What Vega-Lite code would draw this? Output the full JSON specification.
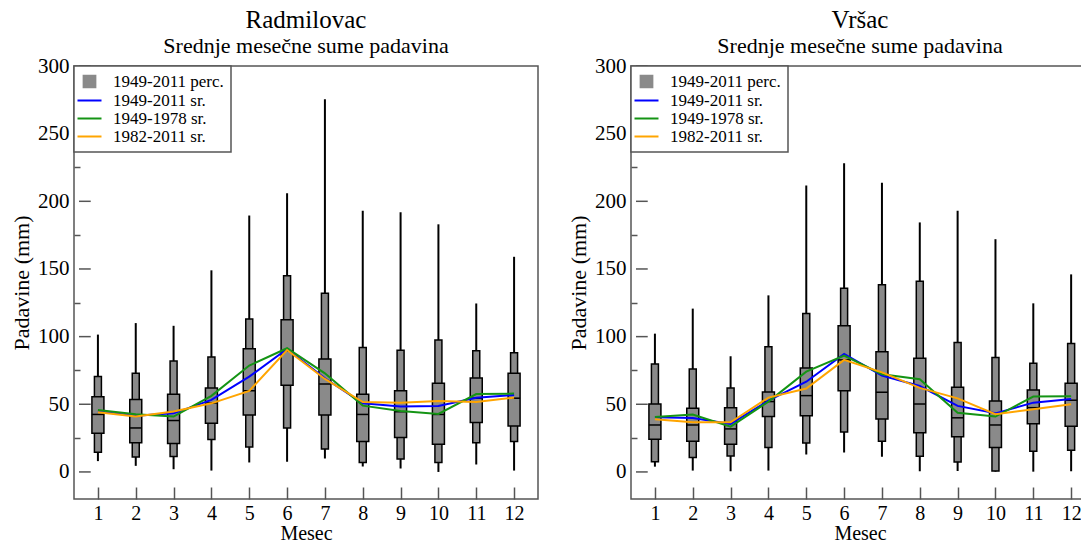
{
  "$schema": "https://vega.github.io/schema/vega-lite/v6.json",
  "padding": {"left": 9, "top": 7, "right": 0, "bottom": 0},
  "background": "white",
  "datasets": {
    "yticks": [{"v": 0}, {"v": 50}, {"v": 100}, {"v": 150}, {"v": 200}, {"v": 250}, {"v": 300}],
    "stats": [
      {"station": "R", "month": 1, "min": 8, "p10": 14.5, "p25": 28.5, "med": 42.5, "p75": 55.5, "p90": 70.5, "max": 101.5},
      {"station": "R", "month": 2, "min": 4.5, "p10": 11, "p25": 21.5, "med": 32.5, "p75": 53.5, "p90": 73, "max": 110},
      {"station": "R", "month": 3, "min": 2, "p10": 11.5, "p25": 21, "med": 38, "p75": 57.5, "p90": 82, "max": 108},
      {"station": "R", "month": 4, "min": 1, "p10": 24, "p25": 36, "med": 51, "p75": 62, "p90": 85, "max": 149},
      {"station": "R", "month": 5, "min": 7, "p10": 18.5, "p25": 42, "med": 60, "p75": 91, "p90": 113, "max": 189.5},
      {"station": "R", "month": 6, "min": 7.5, "p10": 32.5, "p25": 64, "med": 89.5, "p75": 112.5, "p90": 145, "max": 206},
      {"station": "R", "month": 7, "min": 10, "p10": 17, "p25": 42, "med": 65, "p75": 83.5, "p90": 132, "max": 275.5},
      {"station": "R", "month": 8, "min": 4, "p10": 7, "p25": 22.5, "med": 42.5, "p75": 57.5, "p90": 92, "max": 193},
      {"station": "R", "month": 9, "min": 2.5, "p10": 9.5, "p25": 25.5, "med": 44.5, "p75": 60, "p90": 90, "max": 192},
      {"station": "R", "month": 10, "min": 0, "p10": 7, "p25": 20.5, "med": 42.5, "p75": 65.5, "p90": 97.5, "max": 183},
      {"station": "R", "month": 11, "min": 5.5, "p10": 21.5, "p25": 36.5, "med": 54.5, "p75": 69.5, "p90": 89.5, "max": 124.5},
      {"station": "R", "month": 12, "min": 1, "p10": 22.5, "p25": 34, "med": 54.5, "p75": 73, "p90": 88, "max": 159},
      {"station": "V", "month": 1, "min": 3.9, "p10": 7.6, "p25": 24.1, "med": 34.7, "p75": 50.2, "p90": 79.8, "max": 102.2},
      {"station": "V", "month": 2, "min": 1, "p10": 10.6, "p25": 22.7, "med": 34.7, "p75": 47, "p90": 76.1, "max": 120.7},
      {"station": "V", "month": 3, "min": 0.5, "p10": 11.8, "p25": 20.4, "med": 31.8, "p75": 47.5, "p90": 62.1, "max": 85.5},
      {"station": "V", "month": 4, "min": 1, "p10": 18, "p25": 41, "med": 52, "p75": 59, "p90": 92.5, "max": 130.5},
      {"station": "V", "month": 5, "min": 12.8, "p10": 21.4, "p25": 41.6, "med": 56.4, "p75": 76.8, "p90": 117, "max": 211.7},
      {"station": "V", "month": 6, "min": 14.3, "p10": 29.6, "p25": 60, "med": 82.8, "p75": 108, "p90": 135.7, "max": 228.2},
      {"station": "V", "month": 7, "min": 11.3, "p10": 22.7, "p25": 39.2, "med": 58.9, "p75": 88.9, "p90": 138.4, "max": 213.7},
      {"station": "V", "month": 8, "min": 0.5, "p10": 11.6, "p25": 29, "med": 50.2, "p75": 84, "p90": 141, "max": 184.4},
      {"station": "V", "month": 9, "min": 0.7, "p10": 7.4, "p25": 26, "med": 40, "p75": 62.6, "p90": 95.6, "max": 193},
      {"station": "V", "month": 10, "min": 0.2, "p10": 0.7, "p25": 18, "med": 34.7, "p75": 52.5, "p90": 84.5, "max": 172},
      {"station": "V", "month": 11, "min": 0.2, "p10": 15.3, "p25": 35.7, "med": 47.5, "p75": 60.6, "p90": 80.3, "max": 124.6},
      {"station": "V", "month": 12, "min": 0.5, "p10": 16, "p25": 33.7, "med": 53, "p75": 65.5, "p90": 95, "max": 146}
    ],
    "means": [
      {"station": "R", "series": "1949-2011 sr.", "month": 1, "value": 44.6},
      {"station": "R", "series": "1949-2011 sr.", "month": 2, "value": 41.6},
      {"station": "R", "series": "1949-2011 sr.", "month": 3, "value": 43.3},
      {"station": "R", "series": "1949-2011 sr.", "month": 4, "value": 53.2},
      {"station": "R", "series": "1949-2011 sr.", "month": 5, "value": 70.4},
      {"station": "R", "series": "1949-2011 sr.", "month": 6, "value": 90.9},
      {"station": "R", "series": "1949-2011 sr.", "month": 7, "value": 69.2},
      {"station": "R", "series": "1949-2011 sr.", "month": 8, "value": 50.7},
      {"station": "R", "series": "1949-2011 sr.", "month": 9, "value": 48.3},
      {"station": "R", "series": "1949-2011 sr.", "month": 10, "value": 48.8},
      {"station": "R", "series": "1949-2011 sr.", "month": 11, "value": 54.9},
      {"station": "R", "series": "1949-2011 sr.", "month": 12, "value": 56.9},
      {"station": "R", "series": "1949-1978 sr.", "month": 1, "value": 45.8},
      {"station": "R", "series": "1949-1978 sr.", "month": 2, "value": 42.6},
      {"station": "R", "series": "1949-1978 sr.", "month": 3, "value": 40.9},
      {"station": "R", "series": "1949-1978 sr.", "month": 4, "value": 56.2},
      {"station": "R", "series": "1949-1978 sr.", "month": 5, "value": 78.6},
      {"station": "R", "series": "1949-1978 sr.", "month": 6, "value": 91.4},
      {"station": "R", "series": "1949-1978 sr.", "month": 7, "value": 72.9},
      {"station": "R", "series": "1949-1978 sr.", "month": 8, "value": 49.0},
      {"station": "R", "series": "1949-1978 sr.", "month": 9, "value": 45.1},
      {"station": "R", "series": "1949-1978 sr.", "month": 10, "value": 42.9},
      {"station": "R", "series": "1949-1978 sr.", "month": 11, "value": 57.6},
      {"station": "R", "series": "1949-1978 sr.", "month": 12, "value": 57.9},
      {"station": "R", "series": "1982-2011 sr.", "month": 1, "value": 44.1},
      {"station": "R", "series": "1982-2011 sr.", "month": 2, "value": 40.9},
      {"station": "R", "series": "1982-2011 sr.", "month": 3, "value": 44.6},
      {"station": "R", "series": "1982-2011 sr.", "month": 4, "value": 50.7},
      {"station": "R", "series": "1982-2011 sr.", "month": 5, "value": 59.9},
      {"station": "R", "series": "1982-2011 sr.", "month": 6, "value": 90.1},
      {"station": "R", "series": "1982-2011 sr.", "month": 7, "value": 68.7},
      {"station": "R", "series": "1982-2011 sr.", "month": 8, "value": 51.7},
      {"station": "R", "series": "1982-2011 sr.", "month": 9, "value": 51.2},
      {"station": "R", "series": "1982-2011 sr.", "month": 10, "value": 52.5},
      {"station": "R", "series": "1982-2011 sr.", "month": 11, "value": 51.7},
      {"station": "R", "series": "1982-2011 sr.", "month": 12, "value": 54.9},
      {"station": "V", "series": "1949-2011 sr.", "month": 1, "value": 40.4},
      {"station": "V", "series": "1949-2011 sr.", "month": 2, "value": 39.9},
      {"station": "V", "series": "1949-2011 sr.", "month": 3, "value": 35.5},
      {"station": "V", "series": "1949-2011 sr.", "month": 4, "value": 52.7},
      {"station": "V", "series": "1949-2011 sr.", "month": 5, "value": 66.7},
      {"station": "V", "series": "1949-2011 sr.", "month": 6, "value": 87.2},
      {"station": "V", "series": "1949-2011 sr.", "month": 7, "value": 71.2},
      {"station": "V", "series": "1949-2011 sr.", "month": 8, "value": 63.5},
      {"station": "V", "series": "1949-2011 sr.", "month": 9, "value": 48.8},
      {"station": "V", "series": "1949-2011 sr.", "month": 10, "value": 43.3},
      {"station": "V", "series": "1949-2011 sr.", "month": 11, "value": 51.2},
      {"station": "V", "series": "1949-2011 sr.", "month": 12, "value": 53.9},
      {"station": "V", "series": "1949-1978 sr.", "month": 1, "value": 40.6},
      {"station": "V", "series": "1949-1978 sr.", "month": 2, "value": 42.4},
      {"station": "V", "series": "1949-1978 sr.", "month": 3, "value": 33.5},
      {"station": "V", "series": "1949-1978 sr.", "month": 4, "value": 52.0},
      {"station": "V", "series": "1949-1978 sr.", "month": 5, "value": 74.1},
      {"station": "V", "series": "1949-1978 sr.", "month": 6, "value": 86.0},
      {"station": "V", "series": "1949-1978 sr.", "month": 7, "value": 72.2},
      {"station": "V", "series": "1949-1978 sr.", "month": 8, "value": 68.5},
      {"station": "V", "series": "1949-1978 sr.", "month": 9, "value": 43.8},
      {"station": "V", "series": "1949-1978 sr.", "month": 10, "value": 40.9},
      {"station": "V", "series": "1949-1978 sr.", "month": 11, "value": 55.7},
      {"station": "V", "series": "1949-1978 sr.", "month": 12, "value": 55.9},
      {"station": "V", "series": "1982-2011 sr.", "month": 1, "value": 38.9},
      {"station": "V", "series": "1982-2011 sr.", "month": 2, "value": 36.7},
      {"station": "V", "series": "1982-2011 sr.", "month": 3, "value": 36.7},
      {"station": "V", "series": "1982-2011 sr.", "month": 4, "value": 54.9},
      {"station": "V", "series": "1982-2011 sr.", "month": 5, "value": 61.6},
      {"station": "V", "series": "1982-2011 sr.", "month": 6, "value": 82.8},
      {"station": "V", "series": "1982-2011 sr.", "month": 7, "value": 73.6},
      {"station": "V", "series": "1982-2011 sr.", "month": 8, "value": 62.1},
      {"station": "V", "series": "1982-2011 sr.", "month": 9, "value": 54.4},
      {"station": "V", "series": "1982-2011 sr.", "month": 10, "value": 42.6},
      {"station": "V", "series": "1982-2011 sr.", "month": 11, "value": 46.3},
      {"station": "V", "series": "1982-2011 sr.", "month": 12, "value": 50.0}
    ]
  },
  "spacing": 27,
  "resolve": {"scale": {"x": "independent", "y": "independent", "color": "independent"}, "legend": {"color": "independent"}},
  "hconcat": [
    {
      "width": 464,
      "height": 433,
      "title": {"text": "Radmilovac", "subtitle": "Srednje mesečne sume padavina"},
      "resolve": {"axis": {"y": "independent"}},
      "layer": [
        {"data": {"name": "stats"}, "transform": [{"filter": "datum.station === 'R'"}],
         "mark": {"type": "rule", "strokeWidth": 2, "color": "black"},
         "encoding": {
           "x": {"field": "month", "type": "quantitative", "title": "Mesec",
             "scale": {"domain": [0.5, 12.5], "nice": false, "zero": false},
             "axis": {"values": [1,2,3,4,5,6,7,8,9,10,11,12], "offset": -12, "tickSize": 12}},
           "y": {"field": "min", "type": "quantitative", "title": "Padavine (mm)",
             "scale": {"domain": [-20, 300], "nice": false, "zero": false},
             "axis": {"orient": "left", "values": [0,50,100,150,200,250,300], "ticks": false}},
           "y2": {"field": "max"}}},
        {"data": {"name": "stats"}, "transform": [{"filter": "datum.station === 'R'"}],
         "mark": {"type": "bar", "width": 7, "fill": "#8a8a8a", "stroke": "black", "strokeWidth": 1.5},
         "encoding": {
           "x": {"field": "month", "type": "quantitative"},
           "y": {"field": "p10", "type": "quantitative",
             "axis": {"orient": "left", "values": [25,75,125,175,225,275], "labels": false, "title": null, "offset": -6, "tickSize": 6}},
           "y2": {"field": "p90"}}},
        {"data": {"name": "stats"}, "transform": [{"filter": "datum.station === 'R'"}],
         "mark": {"type": "bar", "width": 12, "fill": "#8a8a8a", "stroke": "black", "strokeWidth": 1.5},
         "encoding": {
           "x": {"field": "month", "type": "quantitative"},
           "y": {"field": "p25", "type": "quantitative", "axis": null}, "y2": {"field": "p75"}}},
        {"data": {"name": "stats"}, "transform": [{"filter": "datum.station === 'R'"}],
         "mark": {"type": "tick", "orient": "horizontal", "size": 12, "thickness": 1.5, "color": "black", "opacity": 1},
         "encoding": {
           "x": {"field": "month", "type": "quantitative"},
           "y": {"field": "med", "type": "quantitative", "axis": null}}},
        {"data": {"name": "yticks"},
         "mark": {"type": "rule", "strokeWidth": 1.5, "color": "#555"},
         "encoding": {
           "x": {"datum": 0.5, "type": "quantitative"},
           "x2": {"datum": 0.81},
           "y": {"field": "v", "type": "quantitative", "axis": null}}},
        {"data": {"name": "means"}, "transform": [{"filter": "datum.station === 'R'"}],
         "mark": {"type": "line", "strokeWidth": 2},
         "encoding": {
           "x": {"field": "month", "type": "quantitative"},
           "y": {"field": "value", "type": "quantitative", "axis": null},
           "color": {"field": "series", "type": "nominal",
             "scale": {"domain": ["1949-2011 perc.", "1949-2011 sr.", "1949-1978 sr.", "1982-2011 sr."], "range": ["#8a8a8a", "#0000ff", "#149414", "#ffa500"]},
             "legend": {"encode": {"symbols": {"update": {
               "shape": {"signal": "datum.value === '1949-2011 perc.' ? 'square' : 'stroke'"},
               "size": {"signal": "datum.value === '1949-2011 perc.' ? 150 : 576"},
               "fill": {"signal": "datum.value === '1949-2011 perc.' ? '#8a8a8a' : 'transparent'"},
               "stroke": {"signal": "datum.value === '1949-2011 perc.' ? 'black' : datum.value === '1949-2011 sr.' ? '#0000ff' : datum.value === '1949-1978 sr.' ? '#149414' : '#ffa500'"},
               "strokeWidth": {"signal": "datum.value === '1949-2011 perc.' ? 1.5 : 2"},
               "opacity": {"value": 1}}}}}}}}
      ]
    },
    {
      "width": 458,
      "height": 433,
      "title": {"text": "Vršac", "subtitle": "Srednje mesečne sume padavina"},
      "resolve": {"axis": {"y": "independent"}},
      "layer": [
        {"data": {"name": "stats"}, "transform": [{"filter": "datum.station === 'V'"}],
         "mark": {"type": "rule", "strokeWidth": 2, "color": "black"},
         "encoding": {
           "x": {"field": "month", "type": "quantitative", "title": "Mesec",
             "scale": {"domain": [0.5, 12.34], "nice": false, "zero": false},
             "axis": {"values": [1,2,3,4,5,6,7,8,9,10,11,12], "offset": -12, "tickSize": 12}},
           "y": {"field": "min", "type": "quantitative", "title": "Padavine (mm)",
             "scale": {"domain": [-20, 300], "nice": false, "zero": false},
             "axis": {"orient": "left", "values": [0,50,100,150,200,250,300], "ticks": false}},
           "y2": {"field": "max"}}},
        {"data": {"name": "stats"}, "transform": [{"filter": "datum.station === 'V'"}],
         "mark": {"type": "bar", "width": 7, "fill": "#8a8a8a", "stroke": "black", "strokeWidth": 1.5},
         "encoding": {
           "x": {"field": "month", "type": "quantitative"},
           "y": {"field": "p10", "type": "quantitative",
             "axis": {"orient": "left", "values": [25,75,125,175,225,275], "labels": false, "title": null, "offset": -6, "tickSize": 6}},
           "y2": {"field": "p90"}}},
        {"data": {"name": "stats"}, "transform": [{"filter": "datum.station === 'V'"}],
         "mark": {"type": "bar", "width": 12, "fill": "#8a8a8a", "stroke": "black", "strokeWidth": 1.5},
         "encoding": {
           "x": {"field": "month", "type": "quantitative"},
           "y": {"field": "p25", "type": "quantitative", "axis": null}, "y2": {"field": "p75"}}},
        {"data": {"name": "stats"}, "transform": [{"filter": "datum.station === 'V'"}],
         "mark": {"type": "tick", "orient": "horizontal", "size": 12, "thickness": 1.5, "color": "black", "opacity": 1},
         "encoding": {
           "x": {"field": "month", "type": "quantitative"},
           "y": {"field": "med", "type": "quantitative", "axis": null}}},
        {"data": {"name": "yticks"},
         "mark": {"type": "rule", "strokeWidth": 1.5, "color": "#555"},
         "encoding": {
           "x": {"datum": 0.5, "type": "quantitative"},
           "x2": {"datum": 0.81},
           "y": {"field": "v", "type": "quantitative", "axis": null}}},
        {"data": {"name": "means"}, "transform": [{"filter": "datum.station === 'V'"}],
         "mark": {"type": "line", "strokeWidth": 2},
         "encoding": {
           "x": {"field": "month", "type": "quantitative"},
           "y": {"field": "value", "type": "quantitative", "axis": null},
           "color": {"field": "series", "type": "nominal",
             "scale": {"domain": ["1949-2011 perc.", "1949-2011 sr.", "1949-1978 sr.", "1982-2011 sr."], "range": ["#8a8a8a", "#0000ff", "#149414", "#ffa500"]},
             "legend": {"encode": {"symbols": {"update": {
               "shape": {"signal": "datum.value === '1949-2011 perc.' ? 'square' : 'stroke'"},
               "size": {"signal": "datum.value === '1949-2011 perc.' ? 150 : 576"},
               "fill": {"signal": "datum.value === '1949-2011 perc.' ? '#8a8a8a' : 'transparent'"},
               "stroke": {"signal": "datum.value === '1949-2011 perc.' ? 'black' : datum.value === '1949-2011 sr.' ? '#0000ff' : datum.value === '1949-1978 sr.' ? '#149414' : '#ffa500'"},
               "strokeWidth": {"signal": "datum.value === '1949-2011 perc.' ? 1.5 : 2"},
               "opacity": {"value": 1}}}}}}}}
      ]
    }
  ],
  "config": {
    "font": "Liberation Serif",
    "view": {"stroke": "#555", "strokeWidth": 1.5},
    "title": {"font": "Liberation Serif", "fontSize": 25, "fontWeight": "normal", "color": "black", "anchor": "middle", "frame": "group",
      "subtitleFont": "Liberation Serif", "subtitleFontSize": 22, "subtitleColor": "black", "subtitlePadding": 0, "offset": -2},
    "axis": {"labelFont": "Liberation Serif", "titleFont": "Liberation Serif", "labelFontSize": 21, "titleFontSize": 21, "titleFontWeight": "normal",
      "labelColor": "black", "titleColor": "black", "domain": false, "tickColor": "#555", "tickWidth": 1.5,
      "grid": false, "labelPadding": 5, "labelFlush": false, "labelOverlap": false},
    "axisY": {"titlePadding": 4, "titleFontSize": 22},
    "axisX": {"titlePadding": 0, "labelFontSize": 20, "titleFontSize": 20, "labelPadding": 4},
    "legend": {"orient": "top-left", "offset": 0, "padding": 7, "strokeColor": "#555", "strokeWidth": 1.5, "fillColor": "white",
      "title": null, "labelFont": "Liberation Serif", "labelFontSize": 17, "labelColor": "black",
      "symbolType": "stroke", "symbolStrokeWidth": 2, "symbolSize": 576, "labelOffset": 15, "rowPadding": 0}
  }
}
